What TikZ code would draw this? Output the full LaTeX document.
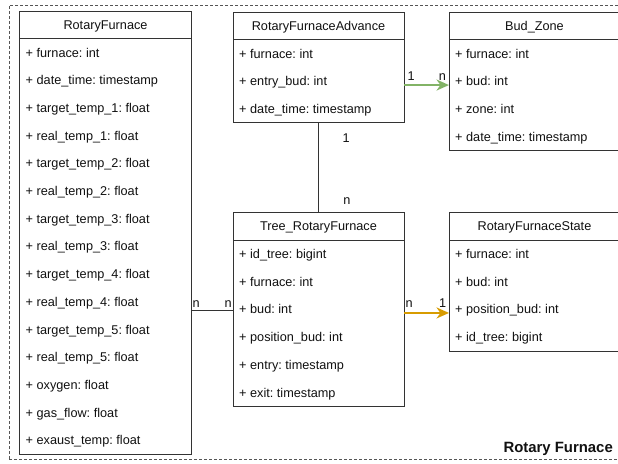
\documentclass[tikz,border=0pt]{standalone}
\usepackage{fontspec}
\setmainfont{Liberation Sans}
\usetikzlibrary{arrows.meta,calc}

\definecolor{linegray}{HTML}{333333}
\definecolor{framegray}{HTML}{555555}
\definecolor{inkgray}{HTML}{111111}
\definecolor{linkgreen}{HTML}{82B366}
\definecolor{linkorange}{HTML}{D79B00}

\frenchspacing
\newcommand\rowfont{\fontsize{12.7}{15}\selectfont}

% class box: name, top-left corner, width, number of rows, title, rows
\newcommand\classbox[6]{%
  \node[classframe, minimum width=#3, minimum height={27.7*(#4+1)}, anchor=north west] (#1) at (#2) {};
  \node[classhead, minimum width=#3, anchor=north west] (#1-h) at (#2) {#5};
  \foreach \txt [count=\i] in {#6}
    \node[classrow] (#1-r\i) at ($(#2)+(6,{27.7*\i+18.35})$) {\txt};
}

\tikzset{
  classframe/.style={draw=linegray, line width=1pt, fill=white, inner sep=0pt, outer sep=0pt},
  classhead/.style={draw=linegray, line width=1pt, minimum height=27.7pt, inner sep=0pt, outer sep=0pt,
    text height=9.1pt, text depth=0pt, font=\rowfont, text=inkgray},
  classrow/.style={inner sep=0pt, anchor=base west, font=\rowfont, text=inkgray},
  mult/.style={inner sep=0pt, font=\rowfont, text=inkgray},
  link/.style={draw=linegray, line width=1pt},
  tip/.style={-{Stealth[length=12.5pt, width=11pt, inset=4pt]}},
  greenlink/.style={draw=linkgreen, line width=2pt, tip},
  orangelink/.style={draw=linkorange, line width=2pt, tip},
  groupframe/.style={draw=framegray, line width=1pt, dash pattern=on 3pt off 2pt, inner sep=0pt, outer sep=0pt},
}

\begin{document}
\begin{tikzpicture}[x=1pt, y=-1pt]
  \clip (0,0) rectangle (618,463);
  \fill[white] (0,0) rectangle (618,463);

  % package frame
  \node[groupframe, minimum width=620, minimum height=454, anchor=north west] (frame) at (9,5) {};
  \node[inner sep=0pt, anchor=base east, font=\fontsize{14.9}{17}\selectfont\bfseries, text=inkgray]
    (framelabel) at (613,452.5) {Rotary Furnace};

  \classbox{rf}{19.5,11}{172}{15}{RotaryFurnace}{%
    + furnace: int,
    + date\_time: timestamp,
    + target\_temp\_1: float,
    + real\_temp\_1: float,
    + target\_temp\_2: float,
    + real\_temp\_2: float,
    + target\_temp\_3: float,
    + real\_temp\_3: float,
    + target\_temp\_4: float,
    + real\_temp\_4: float,
    + target\_temp\_5: float,
    + real\_temp\_5: float,
    + oxygen: float,
    + gas\_flow: float,
    + exaust\_temp: float}

  \classbox{rfa}{233,12}{171}{3}{RotaryFurnaceAdvance}{%
    + furnace: int,
    + entry\_bud: int,
    + date\_time: timestamp}

  \classbox{bz}{449,12}{171}{4}{Bud\_Zone}{%
    + furnace: int,
    + bud: int,
    + zone: int,
    + date\_time: timestamp}

  \classbox{tree}{233,212.5}{171}{6}{Tree\_RotaryFurnace}{%
    + id\_tree: bigint,
    + furnace: int,
    + bud: int,
    + position\_bud: int,
    + entry: timestamp,
    + exit: timestamp}

  \classbox{rfs}{449,212.5}{171}{4}{RotaryFurnaceState}{%
    + furnace: int,
    + bud: int,
    + position\_bud: int,
    + id\_tree: bigint}

  % associations
  \draw[greenlink] ($(rfa.east |- rfa-r2.base)+(0,-0.7)$) -- ($(bz.west |- rfa-r2.base)+(0,-0.7)$);
  \node[mult, anchor=base west] (m-rfa) at ($(rfa.east |- rfa-r2.base)+(3.5,-5.7)$) {1};
  \node[mult, anchor=base east] (m-bz) at ($(bz.west |- rfa-r2.base)+(-2.8,-5.7)$) {n};

  \draw[link] (rfa.south) -- (tree.north);
  \node[mult, anchor=base west] (m-rfa-tree) at ($(rfa.south)+(24,19.2)$) {1};
  \node[mult, anchor=base west] (m-tree-rfa) at ($(tree.north)+(24.7,-8.5)$) {n};

  \draw[orangelink] ($(tree.east |- tree-r3.base)+(0,-1)$) -- ($(rfs.west |- tree-r3.base)+(0,-1)$);
  \node[mult, anchor=base west] (m-tree-rfs) at ($(tree.east |- tree-r3.base)+(1.5,-6.5)$) {n};
  \node[mult, anchor=base east] (m-rfs) at ($(rfs.west |- tree-r3.base)+(-2.7,-6.5)$) {1};

  \draw[link] ($(rf.east |- tree-r3.base)+(0,-3.5)$) -- ($(tree.west |- tree-r3.base)+(0,-3.5)$);
  \node[mult, anchor=base west] (m-rf) at ($(rf.east |- tree-r3.base)+(0.8,-6.6)$) {n};
  \node[mult, anchor=base east] (m-tree-rf) at ($(tree.west |- tree-r3.base)+(-1.2,-6.6)$) {n};
\end{tikzpicture}
\end{document}
